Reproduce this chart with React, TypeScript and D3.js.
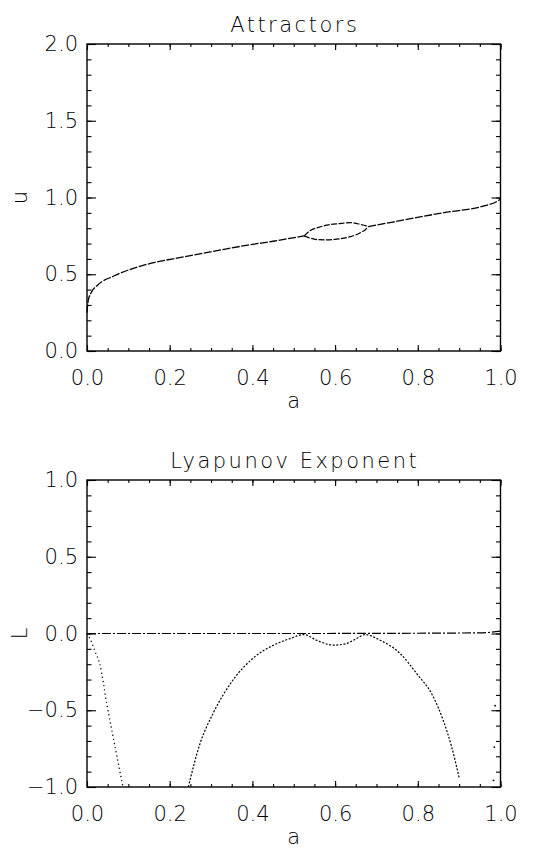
import React, { useRef, useEffect } from 'react';
import * as d3 from 'd3';

// ---- Attractors (u vs a) ----
const stemA = [0, 0.003, 0.01, 0.026, 0.066, 0.147, 0.227, 0.308, 0.389, 0.45, 0.525];
const stemU = [0.25, 0.33, 0.38, 0.43, 0.49, 0.566, 0.61, 0.65, 0.69, 0.715, 0.75];
const loopA = [0.525, 0.54, 0.56, 0.58, 0.61, 0.637, 0.661, 0.675, 0.68];
const upperU = [0.75, 0.785, 0.805, 0.82, 0.83, 0.836, 0.825, 0.815, 0.81];
const lowerU = [0.75, 0.735, 0.725, 0.724, 0.73, 0.745, 0.77, 0.795, 0.81];
const tailA = [0.68, 0.74, 0.86, 0.96, 0.99, 1.0];
const tailU = [0.81, 0.84, 0.9, 0.945, 0.972, 0.99];

// ---- Lyapunov exponent (L vs a) ----
const zeroA = [0, 0.5, 0.95, 1.0];
const zeroL = [0, 0, 0.004, 0.015];
const leftA = [0, 0.01, 0.02, 0.031, 0.048, 0.068, 0.087];
const leftL = [0, -0.05, -0.12, -0.2, -0.46, -0.74, -1.0];
const archA = [0.245, 0.273, 0.305, 0.354, 0.402, 0.451, 0.491, 0.525, 0.555, 0.596, 0.628, 0.652, 0.672, 0.709, 0.757, 0.797, 0.837, 0.862, 0.882, 0.9];
const archL = [-1.0, -0.72, -0.52, -0.3, -0.16, -0.076, -0.033, -0.007, -0.044, -0.076, -0.065, -0.033, -0.007, -0.044, -0.13, -0.26, -0.41, -0.57, -0.74, -0.94];
const strayA = [0.983, 0.985, 0.987];
const strayL = [-0.957, -0.74, -0.47];

const xTicks = [0, 0.2, 0.4, 0.6, 0.8, 1.0];
const topYTicks = [0, 0.5, 1.0, 1.5, 2.0];
const botYTicks = [-1.0, -0.5, 0, 0.5, 1.0];

const FONT = '"DejaVu Sans", sans-serif';
const INK = '#000';

const zip = (xs: number[], ys: number[]) => xs.map((x, i) => [x, ys[i]] as [number, number]);

const App = () => {
  const svgRef = useRef<SVGSVGElement>(null);

  useEffect(() => {
    const width = 538;
    const height = 849;
    const left = 87;
    const right = 500.5;

    const svg = d3.select(svgRef.current)
      .attr('width', width)
      .attr('height', height)
      .style('background', 'white');
    svg.selectAll('*').remove();

    const xScale = d3.scaleLinear().domain([0, 1]).range([left, right]);

    const drawPanel = (top: number, bottom: number, yDomain: [number, number], yTicks: number[],
      title: string, titleY: number, yLabel: string) => {
      const yScale = d3.scaleLinear().domain(yDomain).range([bottom, top]);
      const g = svg.append('g');

      const minorX = d3.range(0, 1.0001, 0.05);
      const minorY = d3.range(yDomain[0], yDomain[1] + 0.0001, 0.1);

      // minor ticks, all four sides
      g.append('g').attr('transform', `translate(0,${bottom})`)
        .call(d3.axisBottom(xScale).tickValues(minorX).tickSize(-3).tickFormat(() => ''));
      g.append('g').attr('transform', `translate(0,${top})`)
        .call(d3.axisTop(xScale).tickValues(minorX).tickSize(-3).tickFormat(() => ''));
      g.append('g').attr('transform', `translate(${left},0)`)
        .call(d3.axisLeft(yScale).tickValues(minorY).tickSize(-4.5).tickFormat(() => ''));
      g.append('g').attr('transform', `translate(${right},0)`)
        .call(d3.axisRight(yScale).tickValues(minorY).tickSize(-4.5).tickFormat(() => ''));

      // major ticks
      const xAx = g.append('g').attr('transform', `translate(0,${bottom})`)
        .call(d3.axisBottom(xScale).tickValues(xTicks).tickSize(-6).tickPadding(19)
          .tickFormat(d3.format('.1f')));
      g.append('g').attr('transform', `translate(0,${top})`)
        .call(d3.axisTop(xScale).tickValues(xTicks).tickSize(-6).tickFormat(() => ''));
      const yAx = g.append('g').attr('transform', `translate(${left},0)`)
        .call(d3.axisLeft(yScale).tickValues(yTicks).tickSize(-9).tickPadding(9)
          .tickFormat(d => d3.format('.1f')(d as number).replace('-', '\u2212')));
      g.append('g').attr('transform', `translate(${right},0)`)
        .call(d3.axisRight(yScale).tickValues(yTicks).tickSize(-9).tickFormat(() => ''));

      g.selectAll('.domain').remove();
      g.selectAll('.tick line').attr('stroke', INK).attr('stroke-width', 1.1);
      [xAx, yAx].forEach(ax => ax.selectAll('text')
        .attr('fill', INK)
        .style('font-family', FONT)
        .style('font-size', '21px')
        .style('font-weight', '200'));

      // frame
      g.append('rect')
        .attr('x', left).attr('y', top)
        .attr('width', right - left).attr('height', bottom - top)
        .attr('fill', 'none').attr('stroke', INK).attr('stroke-width', 1.4);

      // title
      g.append('text')
        .attr('x', (left + right) / 2 + 1).attr('y', titleY)
        .attr('text-anchor', 'middle')
        .attr('fill', INK)
        .style('font-family', FONT).style('font-size', '21px').style('font-weight', '200')
        .style('letter-spacing', '2.5px')
        .text(title);

      // axis titles
      g.append('text')
        .attr('x', (left + right) / 2).attr('y', bottom + 57)
        .attr('text-anchor', 'middle')
        .attr('fill', INK)
        .style('font-family', FONT).style('font-size', '21px').style('font-weight', '200')
        .text('a');
      g.append('text')
        .attr('transform', `translate(27,${(top + bottom) / 2}) rotate(-90)`)
        .attr('text-anchor', 'middle')
        .attr('fill', INK)
        .style('font-family', FONT).style('font-size', '21px').style('font-weight', '200')
        .text(yLabel);

      return { g, yScale };
    };

    const p1 = drawPanel(44, 351, [0, 2], topYTicks, 'Attractors', 32, 'u');
    const p2 = drawPanel(480, 787, [-1, 1], botYTicks, 'Lyapunov Exponent', 468, 'L');

    const curve = (panel: { g: any; yScale: any }, pts: [number, number][], dash: string, w: number) => {
      const line = d3.line<[number, number]>()
        .x(d => xScale(d[0]))
        .y(d => panel.yScale(d[1]))
        .curve(d3.curveMonotoneX);
      panel.g.append('path')
        .datum(pts)
        .attr('fill', 'none')
        .attr('stroke', INK)
        .attr('stroke-width', w)
        .attr('stroke-dasharray', dash)
        .attr('d', line);
    };

    curve(p1, zip(stemA, stemU), '8 1.5', 1.3);
    curve(p1, zip(loopA, upperU), '6 1.5', 1.2);
    curve(p1, zip(loopA, lowerU), '6 1.5', 1.2);
    curve(p1, zip(tailA, tailU), '8 1.5', 1.3);

    curve(p2, zip(zeroA, zeroL), '9 2 2 2', 1.2);
    curve(p2, zip(leftA, leftL), '1.2 3', 1.3);
    curve(p2, zip(archA, archL), '2 1.6', 1.2);

    p2.g.selectAll('circle.stray')
      .data(zip(strayA, strayL))
      .enter().append('circle')
      .attr('class', 'stray')
      .attr('cx', d => xScale(d[0]))
      .attr('cy', d => p2.yScale(d[1]))
      .attr('r', 0.9)
      .attr('fill', INK);
  }, []);

  return (
    <div style={{ position: 'absolute', left: 0, top: 0, background: 'white' }}>
      <svg ref={svgRef} style={{ display: 'block' }}></svg>
    </div>
  );
};

export default App;
